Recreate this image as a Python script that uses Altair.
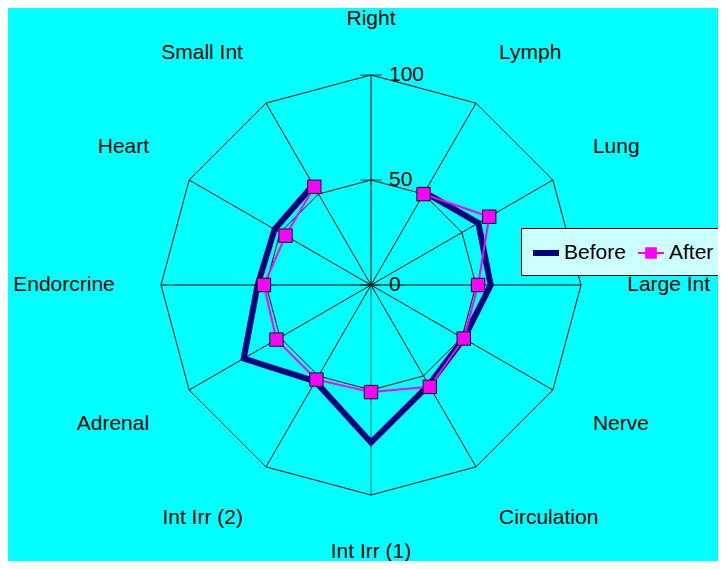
import math
import altair as alt
import pandas as pd

# ---------------- data ----------------
categories = ["Right", "Lymph", "Lung", "Large Int", "Nerve", "Circulation",
              "Int Irr (1)", "Int Irr (2)", "Adrenal", "Endorcrine", "Heart", "Small Int"]
before = [None, 51, 59, 57, 51, 55, 75, 53, 70, 54, 53, 55]
after = [None, 50, 65, 51, 51, 56, 51, 52, 52, 51, 47, 54]
series_names = ["Before", "After"]
series_colors = ["#000080", "#FF00FF"]
grid_levels = [50, 100]
value_ticks = [0, 50, 100]
label_radius = 122

# ---------------- layout ----------------
W, H = 710, 553
CX, CY = 363, 277
PX = 2.1  # pixels per unit
FONT = "Liberation Sans"
FS = 21
N = len(categories)

rows = []
for i, c in enumerate(categories):
    rows.append({"i": i, "cat": c, "series": "Before", "v": before[i]})
    rows.append({"i": i, "cat": c, "series": "After", "v": after[i]})
df = pd.DataFrame(rows)

grid_df = pd.DataFrame([{"lvl": l, "i": i, "v": l} for l in grid_levels for i in range(N + 1)])
spoke_df = pd.DataFrame([{"i": i, "v": max(grid_levels)} for i in range(N)])
label_df = pd.DataFrame([{"i": i, "cat": c, "v": label_radius} for i, c in enumerate(categories)])
tick_df = pd.DataFrame({"t": value_ticks, "lab": [str(t) for t in value_ticks]})

xs = alt.Scale(domain=[-CX / PX, (W - CX) / PX], nice=False, zero=False)
ys = alt.Scale(domain=[-(H - CY) / PX, CY / PX], nice=False, zero=False)
X = alt.X("x:Q", scale=xs, axis=None)
Y = alt.Y("y:Q", scale=ys, axis=None)


def polar(ch):
    return ch.transform_calculate(
        ang=f"datum.i * 2 * PI / {N}"
    ).transform_calculate(
        x="datum.v * sin(datum.ang)", y="datum.v * cos(datum.ang)", x0="0", y0="0"
    )


color_scale = alt.Scale(domain=series_names, range=series_colors)

before_path = "M-1,-0.23L1,-0.23L1,0.23L-1,0.23Z"
after_path = ("M-1,-0.07L-0.45,-0.07L-0.45,-0.45L0.45,-0.45L0.45,-0.07L1,-0.07"
              "L1,0.07L0.45,0.07L0.45,0.45L-0.45,0.45L-0.45,0.07L-1,0.07Z")

legend = alt.Legend(
    title=None, orient="none", legendX=513, legendY=220, direction="horizontal",
    fillColor="#CCFFFF", strokeColor="black", padding=12,
    labelFont=FONT, labelFontSize=FS, labelColor="black", labelOffset=5,
    symbolSize=676, columnPadding=12, symbolStrokeWidth=0,
    symbolType=alt.ExprRef(expr=f"datum.value === 'Before' ? '{before_path}' : '{after_path}'"),
)

grid = polar(alt.Chart(grid_df)).mark_line(color="black", strokeWidth=1).encode(
    x=X, y=Y, detail="lvl:N", order="i:Q")

spokes = polar(alt.Chart(spoke_df)).mark_rule(strokeWidth=1).encode(
    x=alt.X("x0:Q", scale=xs, axis=None), y=alt.Y("y0:Q", scale=ys, axis=None),
    x2="x:Q", y2="y:Q",
    color=alt.condition("datum.i == 6", alt.value("#007070"), alt.value("black")))

valid = polar(alt.Chart(df)).transform_filter("isValid(datum.v)")

before_line = valid.transform_filter("datum.series == 'Before'").mark_line(
    strokeWidth=6, strokeJoin="miter", color=series_colors[0]).encode(
    x=X, y=Y, order="i:Q")

after_line = valid.transform_filter("datum.series == 'After'").mark_line(
    strokeWidth=2, strokeJoin="miter", color=series_colors[1]).encode(
    x=X, y=Y, order="i:Q")

after_sq_bg = valid.transform_filter("datum.series == 'After'").mark_square(
    size=210, color="#202020", opacity=1, filled=True).encode(x=X, y=Y)

after_sq = valid.transform_filter("datum.series == 'After'").mark_point(
    shape="square", filled=True, size=150, opacity=1).encode(
    x=X, y=Y, color=alt.Color("series:N", scale=color_scale, legend=legend))

# category labels, anchored by side
groups = {}
for i in range(N):
    a = i * 2 * math.pi / N
    s, c = math.sin(a), math.cos(a)
    al = "left" if s > 0.01 else ("right" if s < -0.01 else "center")
    bl = "bottom" if c > 0.01 else ("top" if c < -0.01 else "middle")
    groups.setdefault((al, bl), []).append(i)

label_layers = []
for (al, bl), idx in groups.items():
    label_layers.append(
        polar(alt.Chart(label_df)).transform_filter(
            f"indexof({idx}, datum.i) >= 0"
        ).mark_text(align=al, baseline=bl, font=FONT, fontSize=FS, color="black").encode(
            x=X, y=Y, text="cat:N"))

tick_base = alt.Chart(tick_df).transform_calculate(x="0")
ticks = tick_base.mark_tick(orient="horizontal", size=22, thickness=1, color="black").encode(
    x=X, y=alt.Y("t:Q", scale=ys, axis=None))
tick_labels = tick_base.mark_text(align="left", baseline="middle", dx=18, font=FONT,
                                  fontSize=FS, color="black").encode(
    x=X, y=alt.Y("t:Q", scale=ys, axis=None), text="lab:N")

chart = alt.layer(
    grid, spokes, before_line, after_line, after_sq_bg, after_sq, ticks, tick_labels,
    *label_layers
).properties(
    width=W, height=H, padding=0, autosize=alt.AutoSizeParams(type="none"),
    background="#00FFFF"
).configure_view(stroke=None)

chart.save("out.html", embed_options={"renderer": "svg", "actions": False})
